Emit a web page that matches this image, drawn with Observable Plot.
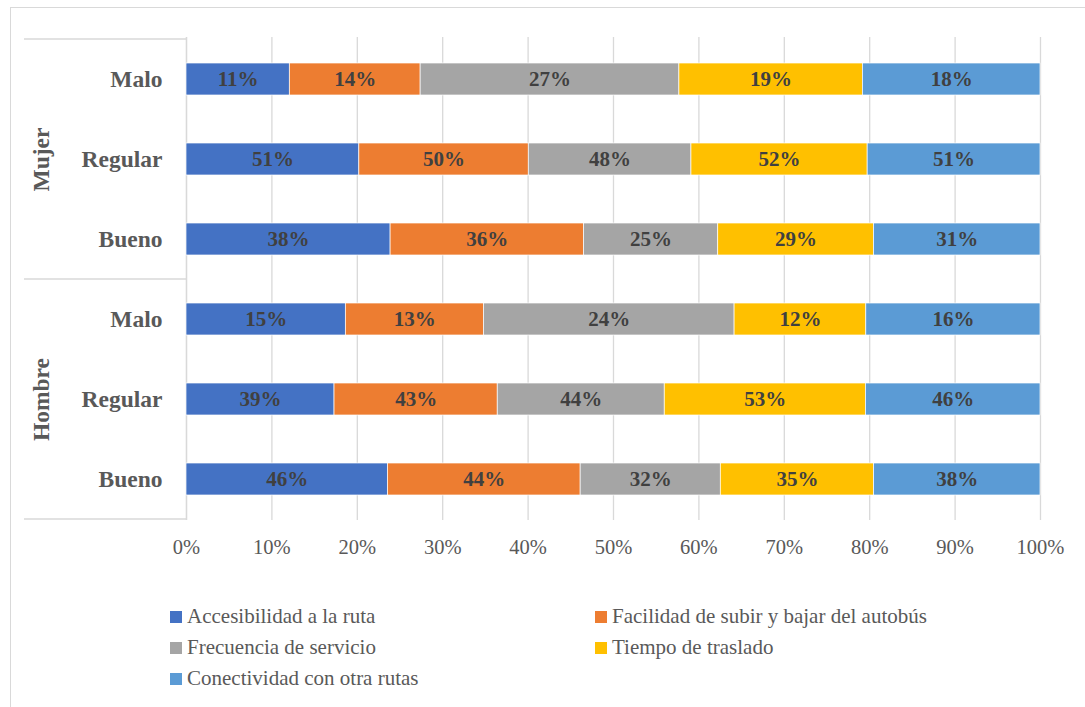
<!DOCTYPE html>
<html>
<head>
<meta charset="utf-8">
<script src="https://cdn.jsdelivr.net/npm/d3@7"></script>
<script src="https://cdn.jsdelivr.net/npm/@observablehq/plot@0.6"></script>
<style>
  html, body { margin: 0; padding: 0; background: #fff; overflow: hidden; width: 1085px; height: 707px; }
  #frame { position: absolute; left: 10px; top: 7px; width: 1200px; height: 800px; border: 1.5px solid #d9d9d9; box-sizing: border-box; }
  #chart { position: absolute; left: 0; top: 0; }
  #chart svg, #chart svg text, #chart svg g { font-family: "Liberation Serif", "Times New Roman", serif !important; }
  #legend { position: absolute; left: 170px; top: 601px; display: grid; grid-template-columns: 425px auto; font-family: "Liberation Serif", "Times New Roman", serif; font-size: 21px; color: #595959; }
  .item { display: flex; align-items: center; height: 31px; white-space: nowrap; }
  .sw { width: 12px; height: 12px; margin-right: 5px; flex: none; }
</style>
</head>
<body>
<div id="frame"></div>
<div id="chart"></div>
<div id="legend"></div>
<script>
const genders = ["Mujer", "Hombre"];
const ratings = ["Malo", "Regular", "Bueno"];
const series = [
  "Accesibilidad a la ruta",
  "Facilidad de subir y bajar del autobús",
  "Frecuencia de servicio",
  "Tiempo de traslado",
  "Conectividad con otra rutas"
];
const colors = ["#4472C4", "#ED7D31", "#A5A5A5", "#FFC000", "#5B9BD5"];
// values (%) per row: Mujer Malo, Mujer Regular, Mujer Bueno, Hombre Malo, Hombre Regular, Hombre Bueno
// (labels are these values rounded; some decimals)
const accesibilidad = [10.7, 51, 38, 15.0, 39, 46];
const facilidad     = [13.55, 50, 36, 13.0, 43, 44];
const frecuencia    = [26.8, 48, 25, 23.6, 44, 32];
const tiempo        = [19.0, 52, 29, 12.4, 53, 35];
const conectividad  = [18.4, 51, 31, 16.4, 46, 38];
const xTicks = [0, 0.1, 0.2, 0.3, 0.4, 0.5, 0.6, 0.7, 0.8, 0.9, 1];

const rows = genders.flatMap(g => ratings.map(r => g + "|" + r));
const seriesValues = [accesibilidad, facilidad, frecuencia, tiempo, conectividad];
const data = [];
rows.forEach((row, i) => {
  series.forEach((s, j) => data.push({row, series: s, value: seriesValues[j][i]}));
});

const font = "Liberation Serif, Times New Roman, serif";

const plot = Plot.plot({
  width: 1085,
  height: 590,
  marginLeft: 186,
  marginRight: 45,
  marginTop: 37,
  marginBottom: 70,
  style: {fontFamily: font, background: "transparent", overflow: "visible"},
  x: {domain: [0, 1]},
  y: {domain: rows, paddingInner: 0.6, paddingOuter: 0.3},
  color: {domain: series, range: colors},
  marks: [
    Plot.gridX(xTicks, {stroke: "#d9d9d9", strokeOpacity: 1, strokeWidth: 1.3}),
    Plot.ruleX([0], {stroke: "#d9d9d9", strokeWidth: 1.3}),
    Plot.barX(data, Plot.stackX({x: "value", y: "row", fill: "series", offset: "normalize", stroke: "white", strokeWidth: 0.7})),
    Plot.text(data, Plot.stackX({
      x: "value", y: "row", offset: "normalize",
      text: d => Math.round(d.value) + "%",
      fill: "#404040", fontSize: 21, fontWeight: "bold"
    })),
    Plot.axisX({ticks: xTicks, tickFormat: d3.format(".0%"), tickSize: 0, tickPadding: 19, fontSize: 20.5, color: "#595959", label: null}),
    Plot.axisY({tickFormat: d => d.split("|")[1], tickSize: 0, tickPadding: 24, fontSize: 23.5, fontWeight: "bold", color: "#595959", label: null}),
    Plot.text(genders, {
      y: g => g + "|Regular", text: g => g, frameAnchor: "left", dx: -145,
      textAnchor: "middle", lineAnchor: "middle",
      rotate: -90, fontSize: 23.5, fontWeight: "bold", fill: "#595959"
    })
  ]
});

// group separator lines on the category axis, placed from the y scale
const ys = plot.scale("y");
const halfGap = ys.step * 0.3;
const svg = d3.select(plot);
const bounds = [
  ys.apply(rows[0]) - halfGap,
  ys.apply(rows[3]) - halfGap,
  ys.apply(rows[5]) + ys.bandwidth + halfGap
];
svg.append("g").selectAll("line").data(bounds).join("line")
  .attr("x1", 24).attr("x2", 186)
  .attr("y1", d => d).attr("y2", d => d)
  .attr("stroke", "#d9d9d9").attr("stroke-width", 1.3);

document.getElementById("chart").append(plot);

const legend = document.getElementById("legend");
series.forEach((s, i) => {
  const item = document.createElement("div");
  item.className = "item";
  const sw = document.createElement("span");
  sw.className = "sw";
  sw.style.background = colors[i];
  const t = document.createElement("span");
  t.textContent = s;
  item.append(sw, t);
  legend.append(item);
});
</script>
</body>
</html>
